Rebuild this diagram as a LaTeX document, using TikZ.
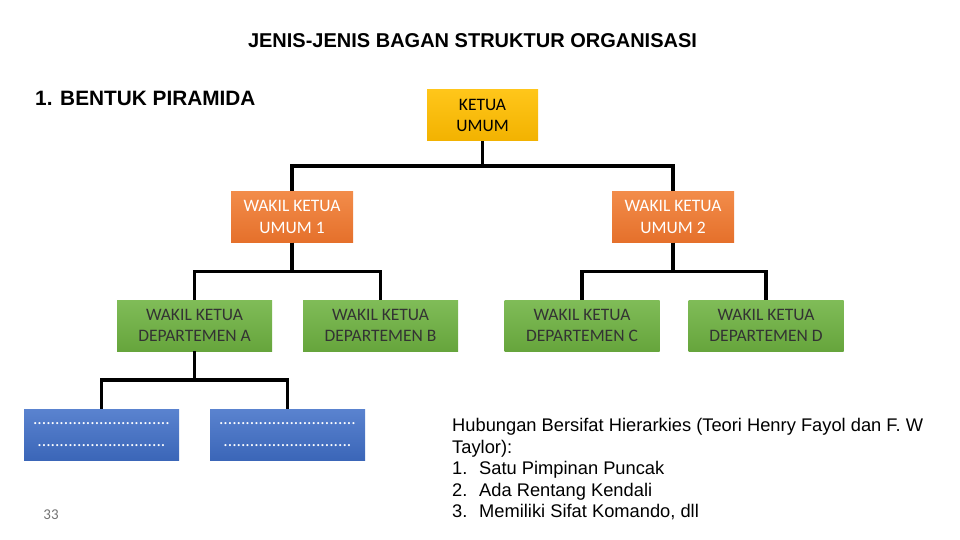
\documentclass[tikz,border=0pt]{standalone}
\usepackage{fontspec}
\setmainfont{Liberation Sans}
\newfontfamily\calibri{Carlito}
\usetikzlibrary{calc}

\definecolor{emasAtas}{HTML}{FFC61A}
\definecolor{emasBawah}{HTML}{F2B200}
\definecolor{oranyeAtas}{HTML}{F28C4A}
\definecolor{oranyeBawah}{HTML}{E5702B}
\definecolor{hijauAtas}{HTML}{80BC58}
\definecolor{hijauBawah}{HTML}{66A53C}
\definecolor{biruAtas}{HTML}{5A83CF}
\definecolor{biruBawah}{HTML}{3B66B8}

\tikzset{
    bagan/.style={rectangle,inner sep=0pt,minimum height=51pt,align=center,
        font=\calibri\fontsize{17.5}{21.5}\selectfont},
    ketua/.style={bagan,minimum width=111pt,top color=emasAtas,bottom color=emasBawah},
    wakil/.style={bagan,minimum width=122pt,text=white,top color=oranyeAtas,bottom color=oranyeBawah},
    departemen/.style={bagan,minimum width=155pt,text=black!80,top color=hijauAtas,bottom color=hijauBawah},
    anggota/.style={bagan,minimum width=155pt,text=white,top color=biruAtas,bottom color=biruBawah}
}

\begin{document}
\begin{tikzpicture}[x=1pt,y=1pt,
    edge from parent/.style={draw,line width=3.5pt,line join=miter},
    edge from parent path={(\tikzparentnode.south) |- ($(\tikzparentnode.south)!0.5!(\tikzchildnode.north)$) -| (\tikzchildnode.north)},
    level 1/.style={level distance=101.5pt,sibling distance=381pt},
    level 2/.style={level distance=108.5pt,sibling distance=186pt},
    level 3/.style={level distance=109pt,sibling distance=186pt}]
\useasboundingbox (0,0) rectangle (960,-540);
\node[font=\bfseries\fontsize{20}{24}\selectfont] (judul) at (472.5,-41) {JENIS-JENIS BAGAN STRUKTUR ORGANISASI};
\node[anchor=west,inner sep=0pt,font=\bfseries\fontsize{20.8}{24}\selectfont] (bentuk) at (35,-98) {1. BENTUK PIRAMIDA};
\node[ketua] (ketua) at (482.5,-115.5) {KETUA\\UMUM}
child {
    node[wakil] (wakil1) {WAKIL KETUA\\UMUM 1}
    child[xshift=-4.5pt] {
        node[departemen] (deptA) {WAKIL KETUA\\DEPARTEMEN A}
        child {node[anggota] (anggota1) {...............................\\.............................}}
        child {node[anggota] (anggota2) {...............................\\.............................}}
    }
    child[xshift=-4.5pt] {node[departemen] (deptB) {WAKIL KETUA\\DEPARTEMEN B}}
}
child {
    node[wakil] (wakil2) {WAKIL KETUA\\UMUM 2}
    child[xshift=2pt] {node[departemen] (deptC) {WAKIL KETUA\\DEPARTEMEN C}}
    child {node[departemen] (deptD) {WAKIL KETUA\\DEPARTEMEN D}}
};
% keterangan hubungan
\node[anchor=north west,inner sep=0pt,align=left,font=\fontsize{18.3}{21.5}\selectfont] (keterangan) at (452,-418.5)
    {Hubungan Bersifat Hierarkies (Teori Henry Fayol dan F. W\\
     Taylor):\\
     \makebox[27pt][l]{1.}Satu Pimpinan Puncak\\
     \makebox[27pt][l]{2.}Ada Rentang Kendali\\
     \makebox[27pt][l]{3.}Memiliki Sifat Komando, dll};
\node[text=black!55,font=\calibri\fontsize{15}{18}\selectfont] (halaman) at (51,-515) {33};
\end{tikzpicture}
\end{document}
